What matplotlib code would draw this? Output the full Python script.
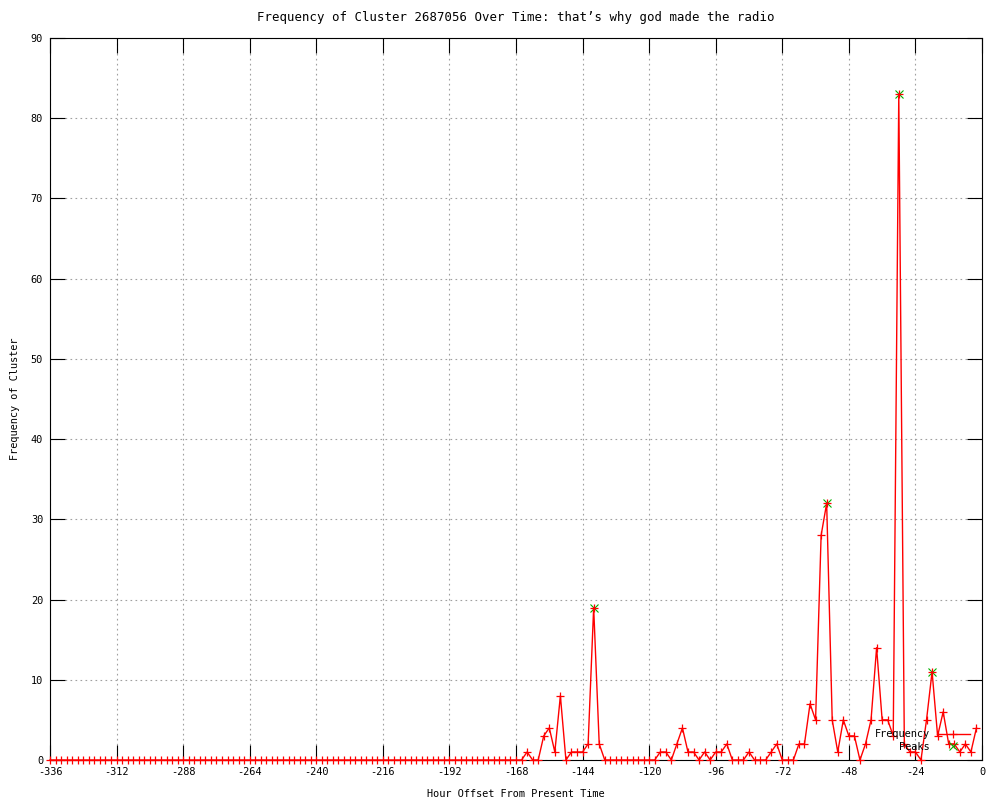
import matplotlib
matplotlib.use('Agg')
import matplotlib.pyplot as plt

# horas (cada 2 h) y frecuencia del cluster
hours = list(range(-336, 0, 2))
frequency = [
    0, 0, 0, 0, 0, 0, 0, 0, 0, 0, 0, 0, 0, 0, 0, 0, 0, 0, 0, 0, 0,
    0, 0, 0, 0, 0, 0, 0, 0, 0, 0, 0, 0, 0, 0, 0, 0, 0, 0, 0, 0, 0,
    0, 0, 0, 0, 0, 0, 0, 0, 0, 0, 0, 0, 0, 0, 0, 0, 0, 0, 0, 0, 0,
    0, 0, 0, 0, 0, 0, 0, 0, 0, 0, 0, 0, 0, 0, 0, 0, 0, 0, 0, 0, 0,
    # desde -168
    0, 0, 1, 0, 0, 3, 4, 1, 8, 0,
    1, 1, 1, 2, 19, 2, 0, 0, 0, 0,
    0, 0, 0, 0, 0, 0, 1, 1, 0, 2,
    4, 1, 1, 0, 1, 0, 1, 1, 2, 0,
    0, 0, 1, 0, 0, 0, 1, 2, 0, 0,
    0, 2, 2, 7, 5, 28, 32, 5, 1, 5,
    3, 3, 0, 2, 5, 14, 5, 5, 3, 83,
    2, 1, 1, 0, 5, 11, 3, 6, 2, 2,
    1, 2, 1, 4,
]
peak_hours = [-140, -56, -30, -18]
peak_values = [19, 32, 83, 11]

plt.rcParams['font.family'] = 'DejaVu Sans Mono'
plt.rcParams['font.size'] = 7.4
plt.rcParams['axes.unicode_minus'] = False

fig = plt.figure(figsize=(10, 8), dpi=100)
ax = fig.add_axes([0.05, 0.05, 0.932, 0.9025])

peaks_line, = ax.plot(peak_hours, peak_values, linestyle='none', marker='x', color='#00b000',
                      markersize=6, markeredgewidth=0.8, label='Peaks', clip_on=False, zorder=2)
freq_line, = ax.plot(hours, frequency, color='red', linewidth=1, marker='+', markersize=6,
                     markeredgewidth=0.9, label='Frequency', clip_on=False, zorder=3)

ax.set_xlim(-336, 0)
ax.set_ylim(0, 90)
ax.set_xticks(range(-336, 1, 24))
ax.set_yticks(range(0, 91, 10))
ax.tick_params(direction='in', length=11, width=0.8, top=True, right=True, pad=5)
ax.grid(True, color='#a0a0a0', linestyle=(0, (1.5, 3)), linewidth=0.8)
ax.set_axisbelow(True)
for s in ax.spines.values():
    s.set_linewidth(0.8)

ax.set_title('Frequency of Cluster 2687056 Over Time: that\u2019s why god made the radio', pad=12)
ax.set_xlabel('Hour Offset From Present Time', labelpad=9)
ax.set_ylabel('Frequency of Cluster', labelpad=8)

ax.legend(handles=[freq_line, peaks_line], loc='lower right', bbox_to_anchor=(0.987, 0.011),
          frameon=False, markerfirst=False, handlelength=3.2, handletextpad=0.7,
          labelspacing=0.26, borderpad=0, borderaxespad=0, numpoints=1)

fig.savefig('out.png', dpi=100)
